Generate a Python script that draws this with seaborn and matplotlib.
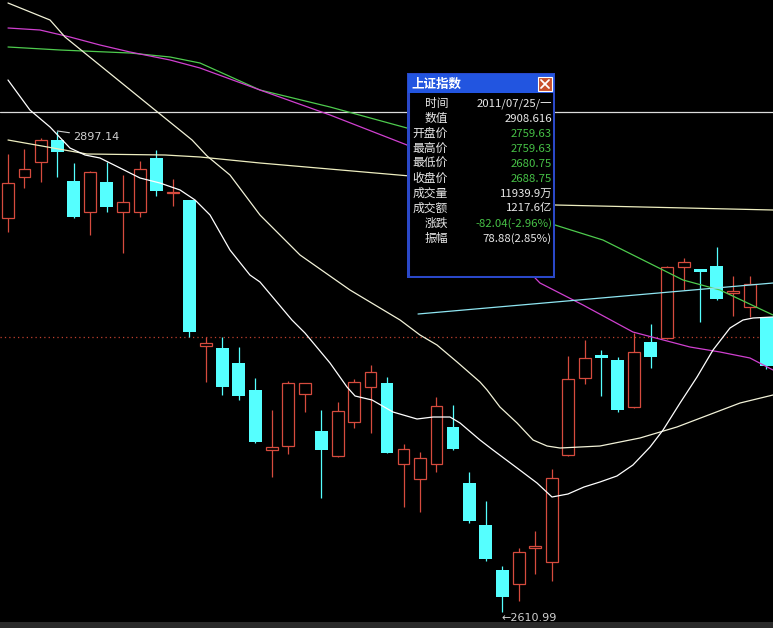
import numpy as np
import pandas as pd
import matplotlib
matplotlib.use("Agg")
import matplotlib.pyplot as plt
from matplotlib.patches import Rectangle
import seaborn as sns

sns.set_theme(style="dark")
plt.rcParams['font.family'] = ['Noto Sans CJK SC', 'DejaVu Sans']

# daily candles (price units)
opens = [2845.38, 2869.77, 2878.70, 2891.78, 2867.39, 2848.95, 2866.80, 2848.95, 2848.95, 2881.08,
         2860.25, 2856.09, 2769.23, 2768.04, 2759.12, 2743.06, 2707.36, 2709.74, 2740.68, 2718.67,
         2703.80, 2724.02, 2744.84, 2747.22, 2699.04, 2690.11, 2699.04, 2721.05, 2687.73, 2662.75,
         2635.98, 2627.65, 2649.06, 2640.74, 2704.39, 2750.20, 2763.29, 2760.91, 2732.95, 2771.61,
         2773.99, 2816.23, 2815.04, 2816.83, 2800.76, 2792.44, 2786.49]
highs = [2883.46, 2886.43, 2892.97, 2897.14, 2878.10, 2873.34, 2878.70, 2870.96, 2879.29, 2885.83,
         2868.58, 2856.09, 2774.59, 2774.59, 2768.64, 2750.20, 2731.16, 2748.41, 2747.22, 2731.16,
         2735.92, 2749.60, 2757.93, 2750.79, 2710.93, 2706.18, 2738.89, 2734.14, 2694.28, 2677.03,
         2638.36, 2649.06, 2659.18, 2696.06, 2763.29, 2772.80, 2766.85, 2762.69, 2776.97, 2782.32,
         2816.83, 2821.59, 2815.04, 2828.13, 2810.88, 2810.88, 2786.49]
lows = [2837.05, 2863.23, 2866.80, 2869.77, 2845.38, 2835.27, 2848.95, 2824.56, 2845.98, 2858.47,
        2852.52, 2774.59, 2747.82, 2740.08, 2737.11, 2711.53, 2691.30, 2704.99, 2729.97, 2678.81,
        2703.20, 2720.45, 2717.48, 2705.58, 2673.46, 2670.48, 2694.28, 2707.36, 2663.94, 2641.33,
        2610.99, 2617.54, 2633.60, 2629.43, 2703.80, 2746.63, 2739.49, 2729.97, 2732.35, 2756.15,
        2773.40, 2802.55, 2783.51, 2796.60, 2787.08, 2786.49, 2755.55]
closes = [2866.20, 2874.53, 2891.78, 2884.65, 2845.98, 2872.75, 2851.93, 2854.90, 2874.53, 2861.44,
          2860.85, 2777.56, 2771.02, 2744.84, 2739.49, 2712.12, 2709.15, 2747.22, 2747.22, 2707.36,
          2730.57, 2747.82, 2753.77, 2705.58, 2707.96, 2702.61, 2733.54, 2707.96, 2665.13, 2642.52,
          2619.91, 2646.69, 2650.25, 2690.71, 2749.60, 2762.10, 2762.10, 2731.16, 2765.67, 2762.69,
          2816.23, 2819.21, 2813.26, 2797.19, 2801.95, 2806.12, 2757.34]

# moving average curves (x = candle index)
ma10_x = [0, 1.33, 2.55, 3.76, 4.67, 5.58, 6.80, 8.01, 9.22, 10.44, 11.35, 12.26, 13.47, 14.68, 15.29,
          17.23, 18.02, 19.54, 20.57, 21.06, 22.09, 23.36, 24.82, 25.79, 26.82, 27.43, 28.64, 29.43,
          30.89, 32.10, 33.01, 33.98, 34.95, 35.92, 36.95, 37.92, 38.96, 39.75, 40.78, 41.81, 42.78,
          43.81, 44.60, 45.21, 46.42]
ma10_y = [2927.48, 2909.63, 2899.52, 2887.02, 2882.86, 2881.08, 2875.13, 2869.18, 2866.20, 2862.04,
          2856.09, 2847.17, 2826.34, 2811.47, 2807.31, 2784.70, 2776.97, 2759.12, 2744.84, 2739.49,
          2737.11, 2729.97, 2725.80, 2726.99, 2726.99, 2723.43, 2713.31, 2707.36, 2696.66, 2687.73,
          2679.40, 2681.19, 2685.35, 2688.33, 2691.90, 2698.44, 2709.15, 2719.26, 2735.32, 2750.79,
          2766.85, 2779.94, 2784.70, 2785.89, 2786.49]
ma20_x = [0, 2.55, 3.46, 8.92, 11.17, 12.08, 13.47, 15.29, 17.72, 20.75, 23.79, 25.00, 26.03, 27.25,
          28.64, 29.07, 29.85, 30.89, 31.86, 32.71, 33.50, 35.92, 38.35, 40.59, 44.42, 46.42]
ma20_y = [2973.29, 2963.17, 2953.06, 2909.63, 2891.78, 2882.27, 2870.96, 2847.17, 2823.37, 2802.55,
          2784.70, 2775.78, 2769.83, 2759.72, 2747.82, 2743.06, 2732.95, 2723.43, 2713.31, 2709.74,
          2708.55, 2709.74, 2714.51, 2721.05, 2735.32, 2740.08]
ma30_x = [0, 1.94, 3.76, 5.58, 7.40, 9.83, 11.65, 15.29, 19.54, 24.21, 32.28, 34.89, 37.92, 41.38,
          43.20, 45.02, 46.42]
ma30_y = [2958.41, 2957.22, 2953.06, 2948.30, 2944.14, 2939.38, 2934.62, 2921.53, 2906.66, 2888.81,
          2806.71, 2793.63, 2777.56, 2768.64, 2765.67, 2762.10, 2754.96]
ma60_x = [0, 3.16, 7.40, 9.83, 11.65, 15.29, 19.54, 24.21, 33.19, 36.10, 40.96, 43.20, 46.42]
ma60_y = [2947.11, 2945.32, 2943.54, 2941.16, 2937.59, 2921.53, 2911.42, 2898.92, 2841.22, 2832.29,
          2808.50, 2802.55, 2787.68]
ma120_x = [0, 4.79, 9.53, 11.65, 15.29, 24.39, 33.19, 46.42]
ma120_y = [2891.78, 2883.46, 2882.86, 2881.67, 2878.10, 2870.37, 2853.12, 2850.14]
trend_x = [24.88, 46.42]
trend_y = [2788.27, 2806.71]

cursor_level = 2908.616
ref_level = 2774.59

tip_labels = ['时间', '数值', '开盘价', '最高价', '最低价', '收盘价', '成交量', '成交额', '涨跌', '振幅']
tip_values = ['2011/07/25/一', '2908.616', '2759.63', '2759.63', '2680.75', '2688.75',
              '11939.9万', '1217.6亿', '-82.04(-2.96%)', '78.88(2.85%)']
tip_green = [False, False, True, True, True, True, False, False, True, False]

RED = '#d64b3e'
CYAN = '#55ffff'
GREEN_TXT = '#46c046'

df = pd.DataFrame({'open': opens, 'high': highs, 'low': lows, 'close': closes})
df['i'] = np.arange(len(df))
up = df['close'] >= df['open']

fig = plt.figure(figsize=(7.73, 6.28), dpi=100)
fig.patch.set_facecolor('black')
fig.patches.append(Rectangle((0, 0), 1, 6 / 628, transform=fig.transFigure,
                             facecolor='#2a2a2a', edgecolor='none'))
ax = fig.add_axes([0, 6 / 628, 1, 622 / 628])
ax.set_facecolor('black')
ax.set_xlim(-0.485, 46.42)
ax.set_ylim(2605.04, 2975.07)
ax.set_axis_off()

ax.axhline(cursor_level, color='#dcdcdc', lw=0.9, zorder=1)
ax.axhline(ref_level, color='#c0402f', lw=0.9, ls=(0, (1, 2.5)), zorder=1)

# wicks
for is_up, col in [(True, RED), (False, CYAN)]:
    d = df[up == is_up]
    ax.vlines(d['i'], d['low'], d['high'], color=col, lw=0.9, zorder=2)

# bodies
d = df[up]
ax.bar(d['i'], (d['close'] - d['open']).clip(lower=0.8), bottom=d['open'], width=0.72,
       facecolor='black', edgecolor=RED, linewidth=0.9, zorder=3)
d = df[~up]
ax.bar(d['i'], (d['open'] - d['close']).clip(lower=1.6), bottom=d['close'], width=0.78,
       color=CYAN, linewidth=0, zorder=3)

# moving averages
lines = [(ma120_x, ma120_y, '#eeeec0'), (ma60_x, ma60_y, '#4ecb4e'), (ma30_x, ma30_y, '#d040d0'),
         (ma20_x, ma20_y, '#f2f2d8'), (ma10_x, ma10_y, '#ffffff'), (trend_x, trend_y, '#8fe6f2')]
for xs, ys, col in lines:
    sns.lineplot(x=xs, y=ys, ax=ax, color=col, lw=0.9, sort=False, estimator=None, zorder=4)

ax.annotate('2897.14', xy=(3, max(highs)), xytext=(11, -4), textcoords='offset points',
            ha='left', va='center', color='#d0d0d0', fontsize=8, family=['DejaVu Sans'],
            arrowprops=dict(arrowstyle='-', color='#d0d0d0', lw=0.8, shrinkA=0, shrinkB=0))
ax.annotate('←2610.99', xy=(30, min(lows)), xytext=(-1, -4), textcoords='offset points',
            ha='left', va='center', color='#d0d0d0', fontsize=8, family=['DejaVu Sans'])

# tooltip window (pixel coordinates inside the box)
bx = fig.add_axes([407 / 773, 1 - 278 / 628, 148 / 773, 205 / 628])
bx.set_xlim(0, 148)
bx.set_ylim(205, 0)
bx.set_axis_off()
bx.add_patch(Rectangle((0, 0), 148, 205, facecolor='black', edgecolor='none'))
bx.add_patch(Rectangle((1, 1), 146, 203, facecolor='none', edgecolor='#2a48c8', lw=2.2))
bx.add_patch(Rectangle((1, 1), 146, 19, facecolor='#2255e0', edgecolor='none'))
bx.text(4, 11, '上证指数', color='white', fontsize=9, fontweight='bold', va='center', ha='left')
bx.add_patch(Rectangle((131, 4), 14, 14, facecolor='#c8502c', edgecolor='white', lw=0.8))
bx.plot([134, 142], [7, 15], color='white', lw=1.3)
bx.plot([134, 142], [15, 7], color='white', lw=1.3)
for k, (lab, val, g) in enumerate(zip(tip_labels, tip_values, tip_green)):
    yy = 31 + k * 14.9
    bx.text(41, yy, lab, color='#e8e8e8', fontsize=8.5, ha='right', va='center')
    bx.text(145, yy, val, color=GREEN_TXT if g else '#e8e8e8', fontsize=8.2, ha='right', va='center')

fig.savefig('out.png', dpi=100, facecolor=fig.get_facecolor())
